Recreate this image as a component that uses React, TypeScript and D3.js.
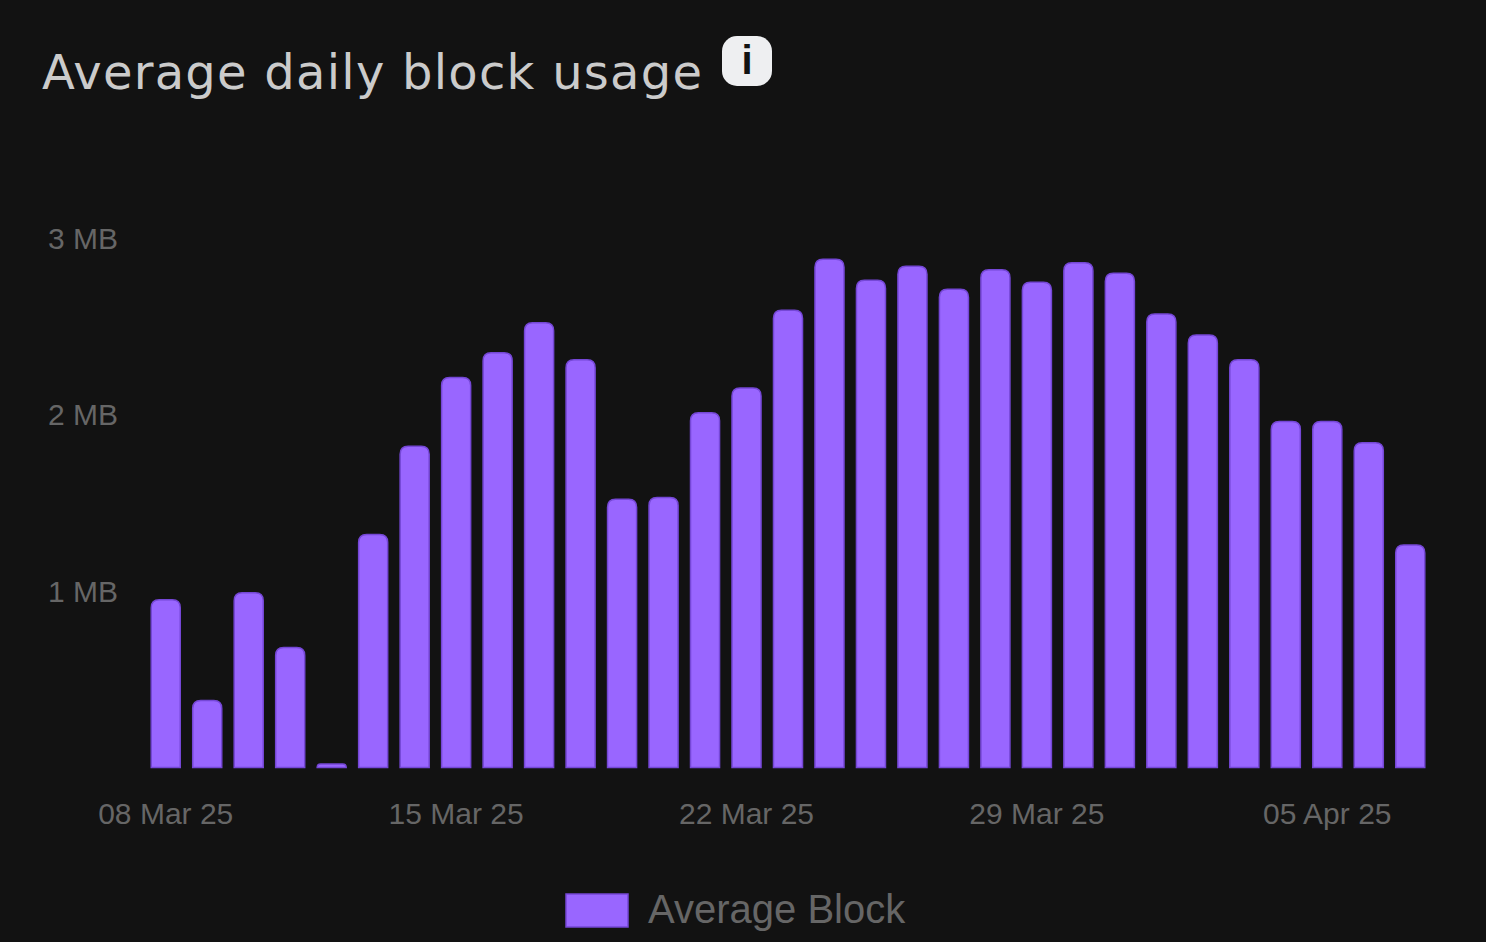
import { useEffect, useRef } from "react"
import * as d3 from "d3"

const days = [
  "08 Mar 25", "09 Mar 25", "10 Mar 25", "11 Mar 25", "12 Mar 25", "13 Mar 25", "14 Mar 25",
  "15 Mar 25", "16 Mar 25", "17 Mar 25", "18 Mar 25", "19 Mar 25", "20 Mar 25", "21 Mar 25",
  "22 Mar 25", "23 Mar 25", "24 Mar 25", "25 Mar 25", "26 Mar 25", "27 Mar 25", "28 Mar 25",
  "29 Mar 25", "30 Mar 25", "31 Mar 25", "01 Apr 25", "02 Apr 25", "03 Apr 25", "04 Apr 25",
  "05 Apr 25", "06 Apr 25", "07 Apr 25",
]

// average block size in MB
const avgBlock = [
  0.95, 0.38, 0.99, 0.68, 0.02, 1.32, 1.82,
  2.21, 2.35, 2.52, 2.31, 1.52, 1.53, 2.01,
  2.15, 2.59, 2.88, 2.76, 2.84, 2.71, 2.82,
  2.75, 2.86, 2.8, 2.57, 2.45, 2.31, 1.96,
  1.96, 1.84, 1.26,
]

const yTicks = [1, 2, 3]
const xTickLabels = ["08 Mar 25", "15 Mar 25", "22 Mar 25", "29 Mar 25", "05 Apr 25"]

export default function App() {
  const svgRef = useRef<SVGSVGElement>(null)

  useEffect(() => {
    if (!svgRef.current) return
    document.body.style.margin = "0"
    document.body.style.background = "#121212"

    const width = 1486
    const height = 942
    const margin = { top: 150, right: 55, bottom: 174.5, left: 145 }

    const svg = d3.select(svgRef.current)
    svg.selectAll("*").remove()
    svg.attr("width", width).attr("height", height)

    svg.append("rect").attr("width", width).attr("height", height).attr("fill", "#121212")

    // title + info badge
    svg
      .append("text")
      .attr("x", 42)
      .attr("y", 89)
      .attr("textLength", 660)
      .attr("lengthAdjust", "spacing")
      .text("Average daily block usage")
      .style("font-family", "'DejaVu Sans', sans-serif")
      .style("font-size", "48px")
      .style("font-weight", "400")
      .style("fill", "#cbcbcb")

    const info = svg.append("g").attr("transform", "translate(722,36)")
    info.append("rect").attr("width", 50).attr("height", 50).attr("rx", 15).attr("fill", "#eeeff1")
    info
      .append("text")
      .attr("x", 25)
      .attr("y", 38)
      .attr("text-anchor", "middle")
      .text("i")
      .style("font-family", "'Liberation Sans', Arial, sans-serif")
      .style("font-size", "40px")
      .style("font-weight", "700")
      .style("fill", "#121212")

    const x = d3
      .scaleBand<string>()
      .domain(days)
      .range([margin.left, width - margin.right])
      .paddingInner(0.3)
      .paddingOuter(0.15)

    const y = d3
      .scaleLinear()
      .domain([0, 3])
      .range([height - margin.bottom, height - margin.bottom - 3 * 176.5])

    // y axis labels
    svg
      .append("g")
      .selectAll("text")
      .data(yTicks)
      .enter()
      .append("text")
      .attr("x", 118)
      .attr("y", (d) => y(d))
      .attr("dy", "0.35em")
      .attr("text-anchor", "end")
      .text((d) => `${d} MB`)
      .style("font-family", "'Liberation Sans', Arial, sans-serif")
      .style("font-size", "30px")
      .style("fill", "#666")

    // x axis labels
    svg
      .append("g")
      .selectAll("text")
      .data(xTickLabels)
      .enter()
      .append("text")
      .attr("x", (d) => (x(d) ?? 0) + x.bandwidth() / 2)
      .attr("y", 813)
      .attr("dy", "0.35em")
      .attr("text-anchor", "middle")
      .text((d) => d)
      .style("font-family", "'Liberation Sans', Arial, sans-serif")
      .style("font-size", "30px")
      .style("fill", "#666")

    // bars with rounded tops
    const barPath = (x0: number, w: number, top: number, bottom: number) => {
      const r = Math.min(8, w / 2, bottom - top)
      return `M${x0},${bottom}V${top + r}Q${x0},${top} ${x0 + r},${top}H${x0 + w - r}Q${x0 + w},${top} ${x0 + w},${top + r}V${bottom}Z`
    }

    svg
      .append("g")
      .selectAll("path")
      .data(avgBlock)
      .enter()
      .append("path")
      .attr("d", (d, i) => barPath(x(days[i]) ?? 0, x.bandwidth(), y(d), y(0)))
      .attr("fill", "#9966ff")
      .attr("stroke", "#7547d6")
      .attr("stroke-width", 1.5)

    // legend
    svg
      .append("rect")
      .attr("x", 566)
      .attr("y", 894)
      .attr("width", 62)
      .attr("height", 33)
      .attr("fill", "#9966ff")
      .attr("stroke", "#7547d6")
      .attr("stroke-width", 1.5)

    svg
      .append("text")
      .attr("x", 648)
      .attr("y", 909)
      .attr("dy", "0.35em")
      .text("Average Block")
      .style("font-family", "'Liberation Sans', Arial, sans-serif")
      .style("font-size", "40px")
      .style("fill", "#666")
  }, [])

  return (
    <div style={{ position: "fixed", left: 0, top: 0 }}>
      <svg ref={svgRef} />
    </div>
  )
}
